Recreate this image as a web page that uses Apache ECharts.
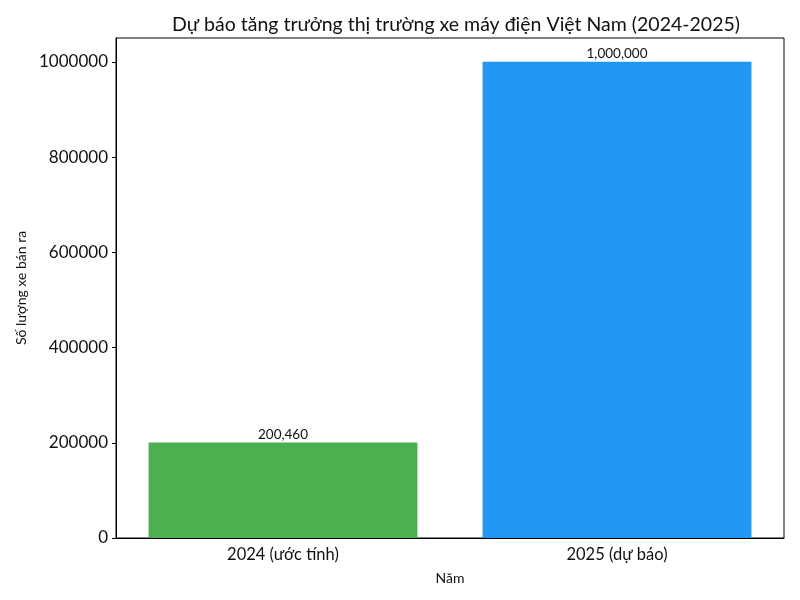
<!DOCTYPE html>
<html><head><meta charset="utf-8">
<script src="https://cdn.jsdelivr.net/npm/echarts@6/dist/echarts.min.js"></script>
<style>html,body{margin:0;padding:0;background:#fff}#c{width:800px;height:600px}</style>
</head><body><div id="c"></div>
<script>
const categories = ['2024 (ước tính)', '2025 (dự báo)'];
const values = [200460, 1000000];
const barColors = ['#4CAF50', '#2196F3'];
const yTicks = [0, 200000, 400000, 600000, 800000, 1000000];

const font = 'Lato, "Open Sans", "Noto Sans", sans-serif';
const chart = echarts.init(document.getElementById('c'));
chart.setOption({
  backgroundColor: '#fff',
  animation: false,
  title: {
    text: 'Dự báo tăng trưởng thị trường xe máy điện Việt Nam (2024-2025)',
    left: 451, top: 10, textAlign: 'center',
    textStyle: {fontFamily: font, fontSize: 19.5, fontWeight: 'normal', color: '#111'}
  },
  grid: {left: 116, right: 16, top: 38, bottom: 62, show: true, borderColor: '#000', borderWidth: 1, backgroundColor: 'transparent'},
  xAxis: {
    type: 'category', data: categories,
    name: 'Năm', nameLocation: 'middle', nameGap: 33,
    nameTextStyle: {fontFamily: font, fontSize: 14, color: '#111'},
    axisLine: {lineStyle: {color: '#000'}},
    axisTick: {alignWithLabel: true, length: 4, lineStyle: {color: '#000'}},
    axisLabel: {fontFamily: font, fontSize: 16.5, color: '#111', margin: 8}
  },
  yAxis: {
    type: 'value', min: 0, max: 1050000, interval: 200000,
    name: 'Số lượng xe bán ra', nameLocation: 'middle', nameGap: 88,
    nameTextStyle: {fontFamily: font, fontSize: 14, color: '#111'},
    splitLine: {show: false},
    axisLine: {show: true, lineStyle: {color: '#000'}},
    axisTick: {show: true, length: 4, lineStyle: {color: '#000'}, customValues: yTicks},
    axisLabel: {fontFamily: font, fontSize: 17, color: '#111', margin: 8, customValues: yTicks, formatter: v => String(v)}
  },
  series: [{
    type: 'bar',
    data: values.map((v, i) => ({value: v, itemStyle: {color: barColors[i]}})),
    barWidth: '80.5%',
    label: {
      show: true, position: 'top', distance: 1,
      fontFamily: font, fontSize: 13.5, color: '#111',
      formatter: p => p.value.toLocaleString('en-US')
    }
  }]
});
</script></body></html>
